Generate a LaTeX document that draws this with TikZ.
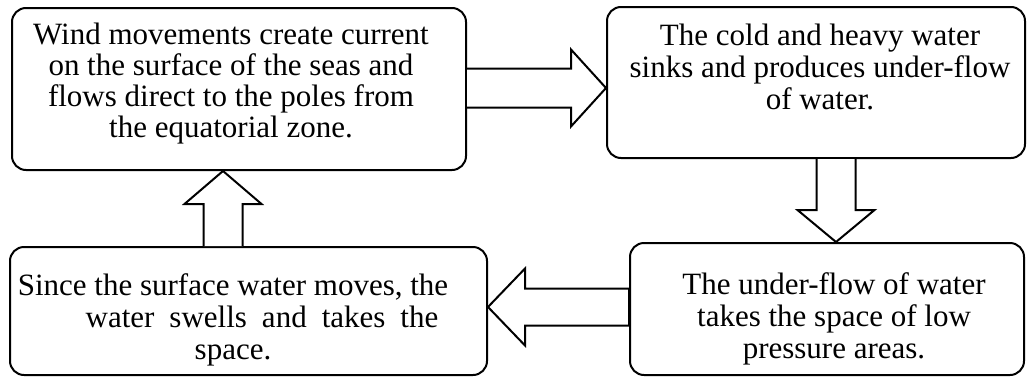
\documentclass[tikz,border=0pt]{standalone}
\usepackage{fontspec}
\setmainfont{Liberation Serif}
\usetikzlibrary{calc}
\tikzset{
  box/.style={draw=black, line width=2pt, rounded corners=14pt, fill=white, inner sep=0pt},
  txt/.style={align=center, inner sep=0pt, font=\fontsize{31}{32}\selectfont},
  txttight/.style={txt, font=\fontsize{31}{31}\selectfont},
  blockarrow/.style={draw=black, line width=2pt, fill=white, line join=miter}
}
\begin{document}
\begin{tikzpicture}[x=1pt,y=-1pt]
\useasboundingbox (0,0) rectangle (1028,378);
% boxes
\node[box, minimum width=454pt, minimum height=162pt] (b1) at (239,89) {};
\node[box, minimum width=418pt, minimum height=151pt] (b2) at (816,82.5) {};
\node[box, minimum width=394pt, minimum height=132pt] (b4) at (827,309) {};
\node[box, minimum width=477pt, minimum height=128pt] (b3) at (248.5,311) {};
% texts
\node[txttight] (t1) at (231,84) {Wind movements create current\\on the surface of the seas and\\flows direct to the poles from\\the equatorial zone.};
\node[txt] (t2) at (820,67) {The cold and heavy water\\sinks and produces under-flow\\of water.};
\node[txt] (t4) at (834,318.5) {The under-flow of water\\takes the space of low\\pressure areas.};
\node[txt] (t3) at (233,320) {Since the surface water moves, the\\\hspace*{58pt}water\hspace{15pt}swells\hspace{15pt}and\hspace{15pt}takes\hspace{15pt}the\\space.};
% arrow axes
\coordinate (c1) at (0,88);
\coordinate (c2) at (836,0);
\coordinate (c3) at (0,307);
\coordinate (c4) at (223,0);
% right arrow b1 -> b2
\path (b1.east |- c1) coordinate (s1) (b2.west |- c1) coordinate (h1);
\draw[blockarrow] ($(s1)+(0,-19.5)$) -- ($(h1)+(-35,-19.5)$) -- ($(h1)+(-35,-38.5)$) -- (h1)
  -- ($(h1)+(-35,38.5)$) -- ($(h1)+(-35,19.5)$) -- ($(s1)+(0,19.5)$);
% down arrow b2 -> b4
\path (b2.south -| c2) coordinate (s2) (b4.north -| c2) coordinate (h2);
\draw[blockarrow] ($(s2)+(-19.5,0)$) -- ($(h2)+(-19.5,-32)$) -- ($(h2)+(-38.5,-32)$) -- (h2)
  -- ($(h2)+(38.5,-32)$) -- ($(h2)+(19.5,-32)$) -- ($(s2)+(19.5,0)$);
% left arrow b4 -> b3
\path (b4.west |- c3) coordinate (s3) (b3.east |- c3) coordinate (h3);
\draw[blockarrow] ($(s3)+(0,-18.5)$) -- ($(h3)+(37,-18.5)$) -- ($(h3)+(37,-38.5)$) -- (h3)
  -- ($(h3)+(37,38.5)$) -- ($(h3)+(37,18.5)$) -- ($(s3)+(0,18.5)$) -- cycle;
% up arrow b3 -> b1
\path (b3.north -| c4) coordinate (s4) (b1.south -| c4) coordinate (h4);
\draw[blockarrow] ($(s4)+(-19.5,0)$) -- ($(h4)+(-19.5,33)$) -- ($(h4)+(-38.5,33)$) -- (h4)
  -- ($(h4)+(38.5,33)$) -- ($(h4)+(19.5,33)$) -- ($(s4)+(19.5,0)$);
\end{tikzpicture}
\end{document}
